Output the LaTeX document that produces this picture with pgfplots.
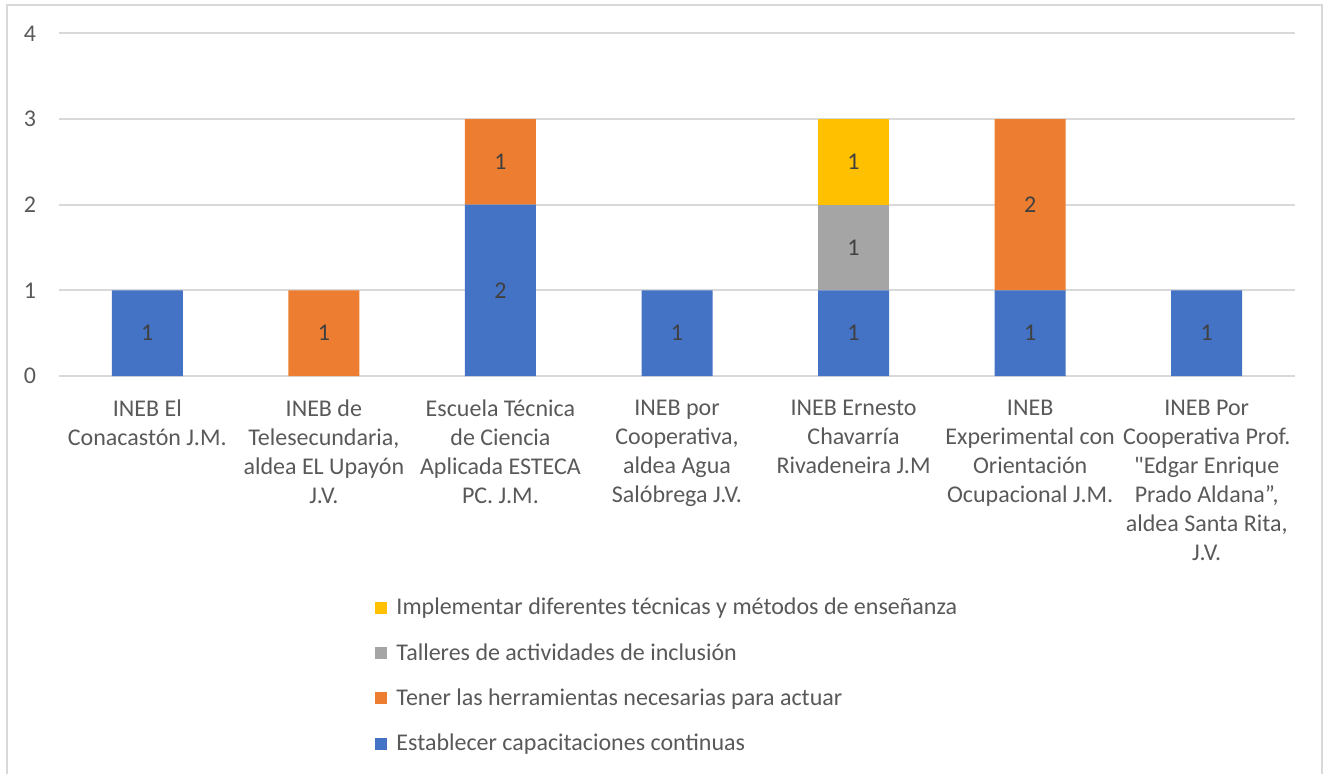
\documentclass[border=0pt]{standalone}
\usepackage{pgfplots}
\pgfplotsset{compat=1.18}
\usepackage{fontspec}
\setmainfont{Carlito}
\newfontfamily\plainf{Carlito}
\definecolor{cblue}{HTML}{4472C4}
\definecolor{corange}{HTML}{ED7D31}
\definecolor{cgray}{HTML}{A5A5A5}
\definecolor{cyellow}{HTML}{FFC000}
\definecolor{gridc}{HTML}{D9D9D9}
\definecolor{txt}{HTML}{595959}
\definecolor{lbl}{HTML}{404040}
\begin{document}
\begin{tikzpicture}
\useasboundingbox (0,0) rectangle (662.5pt,-387pt);
\draw[gridc, line width=1pt] (3.5pt,-400pt) -- (3.5pt,-2.5pt) -- (661pt,-2.5pt) -- (661pt,-400pt);
\begin{axis}[
  at={(29.5pt,-188pt)}, anchor=south west,
  scale only axis, width=618pt, height=171.3pt,
  ybar stacked, bar width=35.5pt,
  xmin=-0.5, xmax=6.5, ymin=0, ymax=4,
  xtick={0,...,6}, ytick={0,1,2,3,4},
  xticklabels={
    {INEB El\\Conacastón J.M.},
    {INEB de\\Telesecundaria,\\aldea EL Upayón\\J.V.},
    {Escuela Técnica\\de Ciencia\\Aplicada ESTECA\\PC. J.M.},
    {INEB por\\Cooperativa,\\aldea Agua\\Salóbrega J.V.},
    {INEB Ernesto\\Chavarría\\Rivadeneira J.M},
    {INEB\\Experimental con\\Orientación\\Ocupacional J.M.},
    {INEB Por\\Cooperativa Prof.\\{\plainf"}Edgar Enrique\\Prado Aldana”,\\aldea Santa Rita,\\J.V.}},
  xticklabel style={align=center, anchor=north, yshift=-8.5pt, text=txt, font=\fontsize{12}{14.5}\selectfont},
  yticklabel style={text=txt, font=\fontsize{12}{14}\selectfont, xshift=-8pt},
  /pgf/number format/assume math mode=true,
  axis line style={draw=none}, major tick length=0pt,
  xmajorgrids=false, ymajorgrids=true, grid style={gridc, line width=1pt},
  legend style={at={(0.2557,-0.636)}, anchor=north west, draw=none, font=\fontsize{12}{14}\selectfont, text=txt,
    row sep=8.75pt, inner sep=0pt},
  legend cell align=left, reverse legend,
  legend image code/.code={\fill[#1] (0pt,-3pt) rectangle (6pt,3pt); \path (8.5pt,0pt);},
  visualization depends on=rawy \as \rawy,
  nodes near coords={\ifdim\rawy pt>0pt \pgfmathprintnumber{\rawy}\fi},
  every node near coord/.append style={anchor=center, text=lbl, font=\fontsize{12}{14}\selectfont},
]
\addplot[fill=cblue, draw=none] coordinates {(0,1) (1,0) (2,2) (3,1) (4,1) (5,1) (6,1)};
\addlegendentry{Establecer capacitaciones continuas}
\addplot[fill=corange, draw=none] coordinates {(0,0) (1,1) (2,1) (3,0) (4,0) (5,2) (6,0)};
\addlegendentry{Tener las herramientas necesarias para actuar}
\addplot[fill=cgray, draw=none] coordinates {(0,0) (1,0) (2,0) (3,0) (4,1) (5,0) (6,0)};
\addlegendentry{Talleres de actividades de inclusión}
\addplot[fill=cyellow, draw=none] coordinates {(0,0) (1,0) (2,0) (3,0) (4,1) (5,0) (6,0)};
\addlegendentry{Implementar diferentes técnicas y métodos de enseñanza}
\end{axis}
\end{tikzpicture}
\end{document}
